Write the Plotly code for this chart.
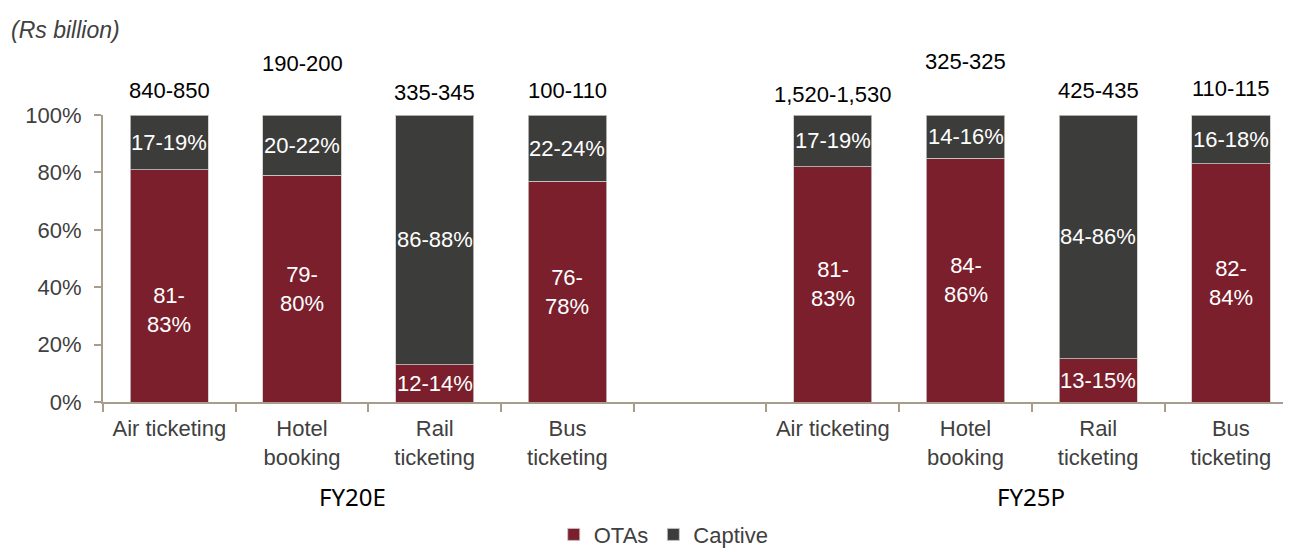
import plotly.graph_objects as go

categories = ["Air ticketing", "Hotel<br>booking", "Rail<br>ticketing", "Bus<br>ticketing", "",
              "Air ticketing", "Hotel<br>booking", "Rail<br>ticketing", "Bus<br>ticketing"]
otas = [0.81, 0.79, 0.13, 0.77, None, 0.82, 0.85, 0.15, 0.83]
captive = [0.19, 0.21, 0.87, 0.23, None, 0.18, 0.15, 0.85, 0.17]
ota_labels = ["81-<br>83%", "79-<br>80%", "12-14%", "76-<br>78%", "", "81-<br>83%", "84-<br>86%", "13-15%", "82-<br>84%"]
captive_labels = ["17-19%", "20-22%", "86-88%", "22-24%", "", "17-19%", "14-16%", "84-86%", "16-18%"]
totals = ["840-850", "190-200", "335-345", "100-110", "", "1,520-1,530", "325-325", "425-435", "110-115"]
total_heights = [1.087, 1.181, 1.080, 1.087, None, 1.073, 1.188, 1.087, 1.094]
groups = ["FY20E", "FY25P"]
group_pos = [1.38, 6.49]

RED = "#7B1F2C"
DARK = "#3C3C3A"
AXIS = "#A89C8C"
FONT = "Liberation Sans"
FS = 22

x = list(range(len(categories)))

fig = go.Figure()
fig.add_trace(go.Bar(x=x, y=otas, name="OTAs", marker=dict(color=RED, line=dict(color="#C8C8C8", width=0.8)),
                     width=0.59, hoverinfo="skip"))
fig.add_trace(go.Bar(x=x, y=captive, name="Captive", marker=dict(color=DARK, line=dict(color="#C8C8C8", width=0.8)),
                     width=0.59, hoverinfo="skip"))

ann = []
common = dict(showarrow=False, xref="x", yref="paper", xanchor="center", yanchor="middle")
for i in x:
    if otas[i] is None:
        continue
    shift = -24 if i == 0 else 0
    ann.append(dict(x=i, y=otas[i] / 2, text=ota_labels[i], yshift=shift,
                    font=dict(family=FONT, size=FS, color="white"), **common))
    ann.append(dict(x=i, y=otas[i] + captive[i] / 2, text=captive_labels[i],
                    font=dict(family=FONT, size=FS, color="white"), **common))
    ann.append(dict(x=i, y=total_heights[i], text=totals[i],
                    font=dict(family=FONT, size=FS, color="black"), **common))

# group labels
for g, p in zip(groups, group_pos):
    ann.append(dict(x=p, y=-0.33, text=g, font=dict(family="Noto Sans", size=24, color="black"), **common))
ann.append(dict(x=-0.079, y=1.296, xref="paper", yref="paper", text="<i>(Rs billion)</i>", showarrow=False,
                xanchor="left", yanchor="middle",
                font=dict(family=FONT, size=23, color="#404040")))

fig.update_layout(
    barmode="stack",
    width=1283, height=544,
    margin=dict(l=95, r=0, t=107, b=150, autoexpand=False),
    plot_bgcolor="white", paper_bgcolor="white",
    showlegend=True,
    legend=dict(orientation="h", x=0.472, xanchor="center", y=-0.462, yanchor="middle",
                font=dict(family=FONT, size=FS, color="#404040"), itemwidth=30,
                traceorder="normal"),
    annotations=ann,
    xaxis=dict(range=[-0.5, 8.453], tickmode="array", tickvals=x, ticktext=categories,
               ticks="", showline=True, linecolor=AXIS, linewidth=2, ticklabelstandoff=6,
               tickfont=dict(family=FONT, size=FS, color="#404040"),
               minor=dict(tickmode="array", tickvals=[i - 0.5 for i in range(10)], ticks="outside",
                          ticklen=8, tickcolor=AXIS, tickwidth=2),
               showgrid=False, zeroline=False, fixedrange=True),
    yaxis=dict(range=[0, 1], tickvals=[0, 0.2, 0.4, 0.6, 0.8, 1.0], tickformat=".0%",
               ticks="outside", ticklen=7, tickcolor=AXIS, tickwidth=2, showline=True,
               linecolor=AXIS, linewidth=2, showgrid=False, zeroline=False, ticklabelstandoff=8,
               tickfont=dict(family=FONT, size=FS, color="#404040"), fixedrange=True),
)

fig.write_html("out.html")
